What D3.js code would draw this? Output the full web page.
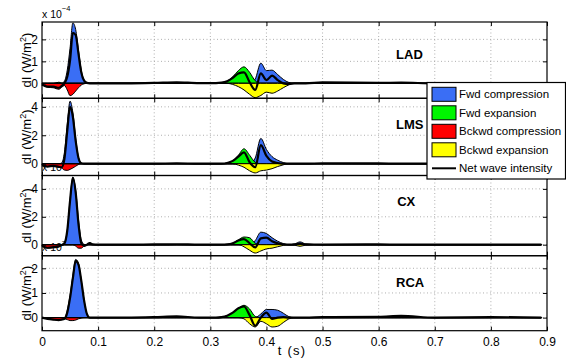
<!DOCTYPE html>
<html>
<head>
<meta charset="utf-8">
<script src="https://cdn.jsdelivr.net/npm/d3@7"></script>
<style>
  body { margin: 0; background: #fff; }
  svg { display: block; }
  text { font-family: "Liberation Sans", Arial, Helvetica, sans-serif; }
</style>
</head>
<body>
<svg id="chart" width="566" height="362"></svg>
<script>
// Sample times (s), shared by every vessel
const time = [
  0, 0.01, 0.02, 0.03, 0.035, 0.04, 0.045, 0.05, 0.055, 0.06, 0.065, 0.07, 0.075, 0.08, 0.085, 0.09, 0.1,
  0.15, 0.2, 0.24, 0.28, 0.31,
  0.32, 0.33, 0.34, 0.35, 0.36, 0.37, 0.38, 0.39, 0.4, 0.41, 0.42, 0.43, 0.44, 0.45, 0.46, 0.47,
  0.5, 0.6, 0.64, 0.7, 0.8, 0.89
];

// LAD wave intensities (x 10^-4 W/m^2)
const ladFwdComp = [0,0,0,0,0,0.1,0.6,1.6,2.75,2.45,1.5,0.6,0.15,0.02,0,0,0, 0,0,0,0,0,
  0,0,0,0,0,0,0.2,0.92,0.58,0.6,0.4,0.18,0.04,0,0,0, 0,0,0,0,0,0];
const ladFwdExp = [0,0,0,0.05,0.02,0,0,0,0,0,0,0,0,0,0,0,0, 0,0,0,0,0,
  0.03,0.1,0.3,0.58,0.75,0.5,0.12,0,0,0,0,0,0,0,0,0, 0,0,0,0,0,0];
const ladBckComp = [-0.05,-0.18,-0.2,-0.27,-0.18,-0.1,-0.3,-0.56,-0.5,-0.35,-0.2,-0.08,-0.02,0,0,0,0, 0,0,0,0,0,
  0,0,0,0,0,0,0,0,0,0,0,0,0,0,0,0, 0,0,0,0,0,0];
const ladBckExp = [0,0,0,0,0,0,0,0,0,0,0,0,0,0,0,0,0, 0,0,0,0,0,
  0,0,-0.05,-0.15,-0.3,-0.5,-0.65,-0.55,-0.4,-0.45,-0.35,-0.2,-0.07,0,0,0, 0,0,0,0,0,0];
const ladNet = [-0.05,-0.15,-0.15,-0.2,-0.12,0,0.3,1.05,2.3,2.2,1.35,0.5,0.12,0.02,0,0,0, 0,0.02,0.05,0.01,0.01,
  0.03,0.1,0.25,0.45,0.5,0.05,-0.3,0.45,0.15,0.35,0.15,0,-0.03,0,0,0, 0.04,0.02,0.03,0,0,0];

// LMS wave intensities
const lmsFwdComp = [0,0,0,0,0.05,0.8,2.8,4.4,3.6,1.8,0.45,0.05,0,0,0,0,0, 0,0,0,0,0,
  0,0,0,0,0,0,0.4,1.78,1,0.5,0.25,0.08,0,0,0,0, 0,0,0,0,0,0];
const lmsFwdExp = [0,0,0,0,0,0,0,0,0,0,0,0,0,0,0,0,0, 0,0,0,0,0,
  0,0.05,0.2,0.6,1.05,0.6,0.1,0,0,0,0,0,0,0,0,0, 0,0,0,0,0,0];
const lmsBckComp = [-0.1,-0.2,-0.18,-0.25,-0.3,-0.45,-0.47,-0.4,-0.3,-0.18,-0.06,0,0,0,0,0,0, 0,0,0,0,0,
  0,0,0,0,0,0,0,0,0,0,0,0,0,0,0,0, 0,0,0,0,0,0];
const lmsBckExp = [0,0,0,0,0,0,0,0,0,0,0,0,0,0,0,0,0, 0,0,0,0,0,
  0,0,0,-0.1,-0.25,-0.5,-0.65,-0.5,-0.45,-0.35,-0.2,-0.08,0,0,0,0, 0,0,0,0,0,0];
const lmsNet = [-0.1,-0.2,-0.15,-0.22,-0.25,0.35,2.3,4,3.3,1.6,0.4,0.03,0,0,0,0,0, 0,0,0.03,0,0,
  0,0.05,0.2,0.5,0.8,0.1,-0.25,1.3,0.55,0.15,0.05,0,0,0,0,0, 0.03,0.02,0,0,0,0];

// CX wave intensities
const cxFwdComp = [0,0,0,0,0,0.1,1,3.2,4.85,3.9,1.8,0.35,0.02,0,0,0,0, 0,0,0,0,0,
  0,0,0,0,0,0,0.3,0.9,0.8,0.5,0.25,0.08,0,0.05,0.2,0.05, 0,0,0,0,0,0];
const cxFwdExp = [0,0,0,0,0,0,0,0,0,0,0,0,0,0,0.15,0.02,0, 0,0,0,0,0,
  0,0.02,0.1,0.35,0.55,0.5,0.1,0,0,0,0,0,0,0,0,0, 0,0,0,0,0,0];
const cxBckComp = [-0.1,-0.25,-0.2,-0.15,-0.05,0,0,0,0,-0.1,-0.25,-0.25,-0.1,0,0,0,0, 0,0,0,0,0,
  0,0,0,0,0,0,0,0,0,0,0,0,0,0,0,0, 0,0,0,0,0,0];
const cxBckExp = [0,0,0,0,0,0,0,0,0,0,0,0,0,0,0,0,0, 0,0,0,0,0,
  0,0,0,0,-0.15,-0.4,-0.6,-0.45,-0.3,-0.25,-0.15,-0.05,0,-0.03,-0.12,-0.03, 0,0,0,0,0,0];
const cxNet = [-0.1,-0.22,-0.18,-0.12,-0.03,0.1,1,3.15,4.8,3.75,1.5,0.1,-0.08,0,0.12,0.02,0, 0,0.02,0.03,0,0,
  0,0.02,0.1,0.3,0.4,0.1,-0.2,0.45,0.5,0.25,0.1,0.03,0,0.02,0.08,0.02, 0.01,0.02,0,0,0,0];

// RCA wave intensities
const rcaFwdComp = [0,0,0,0,0,0,0.3,0.9,1.7,2.36,2.2,1.5,0.7,0.15,0,0,0, 0,0,0,0,0,
  0,0,0,0,0,0,0,0.15,0.33,0.33,0.3,0.18,0.04,0,0,0, 0,0,0,0,0,0];
const rcaFwdExp = [0,0,0,0,0,0,0,0,0,0,0,0,0,0,0,0,0, 0,0,0,0,0,
  0.02,0.08,0.2,0.38,0.5,0.35,0.05,0,0,0,0,0,0,0,0,0, 0,0,0,0,0,0];
const rcaBckComp = [0,-0.05,-0.08,-0.1,-0.08,-0.05,-0.08,-0.12,-0.12,-0.1,-0.05,-0.02,0,0,0,0,0, 0,0,0,0,0,
  0,0,0,0,0,0,0,0,0,0,0,0,0,0,0,0, 0,0,0,0,0,0];
const rcaBckExp = [0,0,0,0,0,0,0,0,0,0,0,0,0,0,0,0,0, 0,0,0,0,0,
  0,0,0,0,-0.05,-0.25,-0.38,-0.15,-0.25,-0.38,-0.35,-0.2,-0.05,0,0,0, 0,0,0,0,0,0];
const rcaNet = [0,-0.05,-0.08,-0.1,-0.08,-0.05,0.2,0.8,1.6,2.3,2.15,1.5,0.7,0.15,0,0,0, 0,0.02,0.05,0,0,
  0.02,0.08,0.2,0.38,0.45,0.1,-0.33,0,0.2,-0.05,0,0.02,0,0,0,0, 0.02,0.03,0.07,0,0.02,0];

// Axis ticks
const xTicks = [0, 0.1, 0.2, 0.3, 0.4, 0.5, 0.6, 0.7, 0.8, 0.9];
const ladTicks = [0, 1, 2];
const lmsTicks = [0, 2, 4];
const cxTicks = [0, 2, 4];
const rcaTicks = [0, 1, 2];

const legendLabels = ["Fwd compression", "Fwd expansion", "Bckwd compression", "Bckwd expansion", "Net wave intensity"];
const waveColors = ["#3a6ef5", "#00f500", "#ff0000", "#ffff00"];

// Layout of the four stacked axes (exponent label shown where it is not covered)
const panels = [
  { name: "LAD", series: [ladFwdComp, ladFwdExp, ladBckComp, ladBckExp], net: ladNet, ticks: ladTicks,
    domain: [-0.68, 2.79], top: 22, bottom: 98.3, label: [0.631, 1.09], exponent: true },
  { name: "LMS", series: [lmsFwdComp, lmsFwdExp, lmsBckComp, lmsBckExp], net: lmsNet, ticks: lmsTicks,
    domain: [-0.83, 4.6], top: 98.3, bottom: 175.5, label: [0.631, 2.47], exponent: false },
  { name: "CX", series: [cxFwdComp, cxFwdExp, cxBckComp, cxBckExp], net: cxNet, ticks: cxTicks,
    domain: [-0.79, 4.96], top: 175.5, bottom: 255.7, label: [0.633, 2.78], exponent: true },
  { name: "RCA", series: [rcaFwdComp, rcaFwdExp, rcaBckComp, rcaBckExp], net: rcaNet, ticks: rcaTicks,
    domain: [-0.53, 2.51], top: 255.7, bottom: 330.7, label: [0.631, 1.26], exponent: true }
];

const svg = d3.select("#chart");
const left = 42, right = 547;
const x = d3.scaleLinear().domain([0, 0.9]).range([left, right]);

panels.forEach(p => {
  p.y = d3.scaleLinear().domain(p.domain).range([p.bottom, p.top]);
});

const gridLayer = svg.append("g");
const expLayer = svg.append("g");
const dataLayer = svg.append("g");
const axisLayer = svg.append("g");
const legendLayer = svg.append("g");

// Dotted grid
panels.forEach(p => {
  gridLayer.selectAll(null).data(xTicks.slice(1, -1)).enter().append("line")
    .attr("x1", d => x(d)).attr("x2", d => x(d))
    .attr("y1", p.top).attr("y2", p.bottom)
    .attr("stroke", "#9a9a9a").attr("stroke-width", 0.8).attr("stroke-dasharray", "1,2.5");
  gridLayer.selectAll(null).data(p.ticks).enter().append("line")
    .attr("x1", left).attr("x2", right)
    .attr("y1", d => p.y(d)).attr("y2", d => p.y(d))
    .attr("stroke", "#9a9a9a").attr("stroke-width", 0.8).attr("stroke-dasharray", "1,2.5");
});

// Scale exponent labels above each axis
panels.filter(p => p.exponent).forEach(p => {
  const t = expLayer.append("text").attr("x", left).attr("y", p.top - 4.5)
    .attr("font-size", 10.5).attr("fill", "#000");
  t.append("tspan").text("x 10");
  t.append("tspan").attr("dy", -7).attr("font-size", 7.5).text("\u22124");
});

// Wave intensity areas and net line
panels.forEach(p => {
  const g = dataLayer.append("g");
  p.series.forEach((vals, i) => {
    const pts = time.map((t, k) => ({ t: t, v: vals[k] }));
    const area = d3.area().x(d => x(d.t)).y0(p.y(0)).y1(d => p.y(d.v)).curve(d3.curveMonotoneX);
    g.append("path").datum(pts).attr("d", area)
      .attr("fill", waveColors[i]).attr("stroke", "#000").attr("stroke-width", 1);
  });
  const netPts = time.map((t, k) => ({ t: t, v: p.net[k] }));
  const line = d3.line().x(d => x(d.t)).y(d => p.y(d.v)).curve(d3.curveMonotoneX);
  g.append("path").datum(netPts).attr("d", line)
    .attr("fill", "none").attr("stroke", "#000").attr("stroke-width", 2.2)
    .attr("stroke-linejoin", "round");

  g.append("text").attr("x", x(p.label[0])).attr("y", p.y(p.label[1]))
    .attr("font-size", 13).attr("font-weight", "bold").text(p.name);
});

// Axes: inward ticks on all four sides, labels on left and on the bottom axis
panels.forEach((p, i) => {
  const last = i === panels.length - 1;
  const bottomAxis = d3.axisBottom(x).tickValues(xTicks).tickSizeInner(-4).tickSizeOuter(0).tickPadding(7)
    .tickFormat(last ? d3.format("") : () => "");
  const topAxis = d3.axisTop(x).tickValues(xTicks).tickSizeInner(-4).tickSizeOuter(0).tickFormat(() => "");
  const leftAxis = d3.axisLeft(p.y).tickValues(p.ticks).tickSizeInner(-4).tickSizeOuter(0).tickPadding(4)
    .tickFormat(d3.format("d"));
  const rightAxis = d3.axisRight(p.y).tickValues(p.ticks).tickSizeInner(-4).tickSizeOuter(0).tickFormat(() => "");

  const parts = [
    [bottomAxis, `translate(0,${p.bottom})`],
    [topAxis, `translate(0,${p.top})`],
    [leftAxis, `translate(${left},0)`],
    [rightAxis, `translate(${right},0)`]
  ];
  parts.forEach(([ax, tr]) => {
    const g = axisLayer.append("g").attr("transform", tr).call(ax);
    g.select(".domain").remove();
    g.attr("font-family", "Liberation Sans, Arial, sans-serif").attr("font-size", 12);
    g.selectAll(".tick line").attr("stroke-width", 1);
  });

  axisLayer.append("rect").attr("x", left).attr("y", p.top)
    .attr("width", right - left).attr("height", p.bottom - p.top)
    .attr("fill", "none").attr("stroke", "#000").attr("stroke-width", 1.2);

  // y-axis title
  const cy = (p.top + p.bottom) / 2;
  const yl = axisLayer.append("text").attr("transform", `translate(30.5,${cy}) rotate(-90)`)
    .attr("text-anchor", "middle").attr("font-size", 13);
  yl.append("tspan").text("dI (W/m");
  yl.append("tspan").attr("dy", -5).attr("font-size", 9).text("2");
  yl.append("tspan").attr("dy", 5).text(")");
});

// x-axis title
axisLayer.append("text").attr("x", 292).attr("y", 355).attr("text-anchor", "middle")
  .attr("font-family", "DejaVu Serif, Liberation Serif, serif").attr("font-size", 13)
  .attr("letter-spacing", 1.2).text("t (s)");

// Legend
const lg = legendLayer.append("g").attr("transform", "translate(427,82.5)");
lg.append("rect").attr("width", 138.5).attr("height", 96.5)
  .attr("fill", "#fff").attr("stroke", "#000").attr("stroke-width", 1.2);
legendLabels.forEach((lab, i) => {
  const cy = 11.8 + i * 18.5;
  if (i < 4) {
    lg.append("rect").attr("x", 5).attr("y", cy - 7).attr("width", 24).attr("height", 14)
      .attr("fill", waveColors[i]).attr("stroke", "#000").attr("stroke-width", 1);
  } else {
    lg.append("line").attr("x1", 5).attr("x2", 29).attr("y1", cy).attr("y2", cy)
      .attr("stroke", "#000").attr("stroke-width", 2);
  }
  lg.append("text").attr("x", 32).attr("y", cy + 4).attr("font-size", 11.5).text(lab);
});
</script>
</body>
</html>
